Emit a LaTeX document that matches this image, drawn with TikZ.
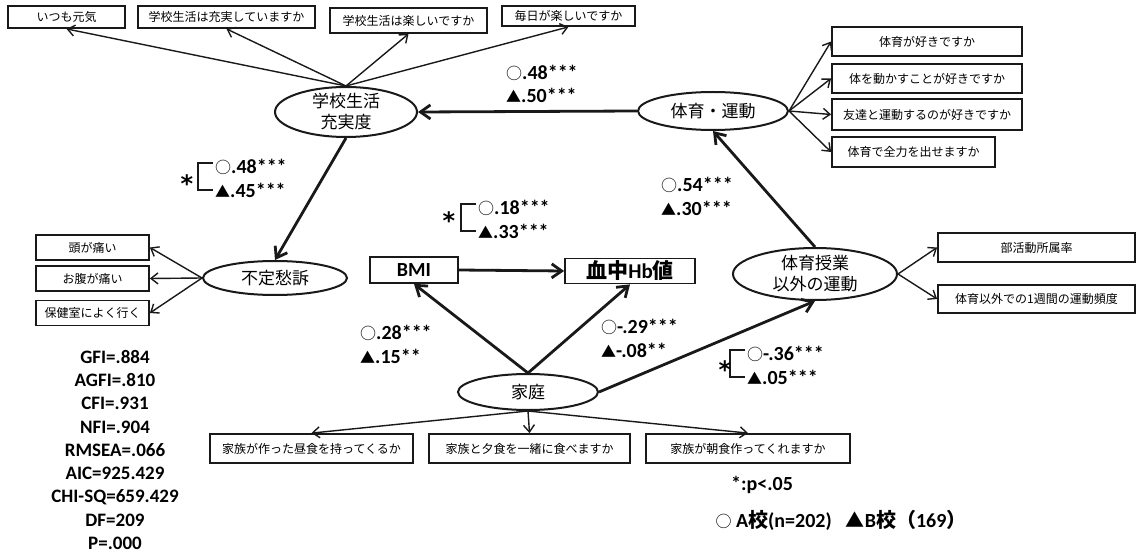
\documentclass[tikz,border=0pt]{standalone}
\usepackage{fontspec}
\setmainfont{Carlito}
\newfontfamily\cjk{Noto Sans CJK JP}
\newfontfamily\starfont{DejaVu Sans}
\usepackage{tikz}
\usetikzlibrary{arrows.meta,shapes.geometric}
\newcommand{\markA}{{\cjk\mdseries\fontsize{16}{16}\selectfont ○}}
\newcommand{\markB}{{\cjk\mdseries\fontsize{15}{15}\selectfont ▲}}

\begin{document}
\begin{tikzpicture}[
  x=1pt, y=-1pt,
  obs/.style={rectangle, draw=black!90, line width=1.8pt, inner sep=0pt, align=center,
              font=\cjk\fontsize{12}{14}\selectfont},
  latent/.style={ellipse, draw=black!90, line width=2pt, inner sep=0pt, align=center,
                 font=\cjk\fontsize{17}{21}\selectfont},
  coef/.style={anchor=west, inner sep=0pt, align=left, font=\bfseries\fontsize{20}{24}\selectfont},
  sgn/.style={inner sep=0pt, font=\starfont\bfseries\fontsize{24}{24}\selectfont},
  brk/.style={line width=2pt, draw=black!90},
  ind/.style={-{Straight Barb[length=7pt,width=11pt]}, line width=1.4pt, draw=black!90},
  eff/.style={-{Straight Barb[length=10pt,width=14pt]}, line width=2.8pt, draw=black!90}
]
\useasboundingbox (0,0) rectangle (1142,553);

\node[latent, minimum width=142pt, minimum height=50pt, inner ysep=-3pt] (sch) at (346,112) {学校生活\\充実度};
\node[latent, minimum width=150pt, minimum height=38pt] (pe) at (713,111) {体育・運動};
\node[latent, minimum width=144pt, minimum height=34pt] (fut) at (275,278) {不定愁訴};
\node[latent, minimum width=140pt, minimum height=36pt] (home) at (528,392) {家庭};
\node[latent, minimum width=164pt, minimum height=52pt, inner ysep=-3pt] (ext) at (815,274) {体育授業\\以外の運動};

\node[obs, minimum width=117pt, minimum height=22pt] (t1) at (66.5,17) {いつも元気};
\node[obs, minimum width=177pt, minimum height=22pt] (t2) at (226.5,17) {学校生活は充実していますか};
\node[obs, minimum width=157pt, minimum height=25pt] (t3) at (408.5,20.5) {学校生活は楽しいですか};
\node[obs, minimum width=133pt, minimum height=20pt] (t4) at (568.5,16) {毎日が楽しいですか};

\node[obs, minimum width=190pt, minimum height=29pt] (r1) at (927,41.5) {体育が好きですか};
\node[obs, minimum width=190pt, minimum height=29pt] (r2) at (927,78.5) {体を動かすことが好きですか};
\node[obs, minimum width=190pt, minimum height=31pt] (r3) at (927,114.5) {友達と運動するのが好きですか};
\node[obs, minimum width=163pt, minimum height=30pt] (r4) at (913.5,152) {体育で全力を出せますか};

\node[obs, minimum width=113pt, minimum height=25pt] (l1) at (92.5,247.5) {頭が痛い};
\node[obs, minimum width=113pt, minimum height=25pt] (l2) at (92.5,278.5) {お腹が痛い};
\node[obs, minimum width=113pt, minimum height=25pt] (l3) at (92.5,313) {保健室によく行く};

\node[obs, minimum width=88pt, minimum height=26pt, font=\bfseries\fontsize{20}{24}\selectfont] (bmi) at (414,270) {BMI};
\node[obs, minimum width=130pt, minimum height=25pt, font=\bfseries\fontsize{21}{24}\selectfont] (hb) at (630,271) {{\cjk 血中}Hb{\cjk 値}};

\node[obs, minimum width=197pt, minimum height=29pt] (e1) at (1036.5,247.5) {部活動所属率};
\node[obs, minimum width=197pt, minimum height=28pt] (e2) at (1036.5,299) {体育以外での1週間の運動頻度};

\node[obs, minimum width=203pt, minimum height=29pt] (f1) at (311.5,448.5) {家族が作った昼食を持ってくるか};
\node[obs, minimum width=201pt, minimum height=29pt] (f2) at (529.5,448.5) {家族と夕食を一緒に食べますか};
\node[obs, minimum width=204pt, minimum height=29pt] (f3) at (748,448.5) {家族が朝食作ってくれますか};

\draw[ind] (sch.north) -- (t1.south);
\draw[ind] (sch.north) -- (t2.south);
\draw[ind] (sch.north) -- (t3.south);
\draw[ind] (sch.north) -- (t4.south);
\draw[ind] (pe.east) -- (r1.west);
\draw[ind] (pe.east) -- (r2.west);
\draw[ind] (pe.east) -- (r3.west);
\draw[ind] (pe.east) -- (r4.west);
\draw[ind] (fut.west) -- (l1.east);
\draw[ind] (fut.west) -- (l2.east);
\draw[ind] (fut.west) -- (l3.east);
\draw[ind] (ext.east) -- (e1.west);
\draw[ind] (ext.east) -- (e2.west);
\draw[ind] (home.south) -- (f1.north);
\draw[ind] (home.south) -- (f2.north);
\draw[ind] (home.south) -- (f3.north);

\draw[eff] (pe.west) -- (sch.east);
\draw[eff] (sch.south) -- (fut.north);
\draw[eff] (bmi.east) -- (hb.west);
\draw[eff] (home.north) -- (bmi.south);
\draw[eff] (home.north) -- (hb.south);
\draw[eff] (home.east) -- (ext.south);
\draw[eff] (ext.north) -- (pe.south);

\node[coef, font=\bfseries\fontsize{20}{23}\selectfont] (k1) at (506,84) {\markA.48***\\\markB.50***};
\node[coef] (k2) at (215,178) {\markA.48***\\\markB.45***};
\node[coef] (k3) at (478,219) {\markA.18***\\\markB.33***};
\node[coef] (k4) at (661,196) {\markA.54***\\\markB.30***};
\node[coef] (k5) at (360,344) {\markA.28***\\\markB.15**};
\node[coef] (k6) at (601,338) {\markA-.29***\\\markB-.08**};
\node[coef] (k7) at (747,365) {\markA-.36***\\\markB.05***};

\draw[brk] ([shift={(-2,-15)}]k2.west) -- ++(-15,0) -- ++(0,27) -- ++(15,0);
\draw[brk] ([shift={(-2,-15)}]k3.west) -- ++(-15,0) -- ++(0,27) -- ++(15,0);
\draw[brk] ([shift={(-2,-15)}]k7.west) -- ++(-15,0) -- ++(0,27) -- ++(15,0);
\node[sgn] (s2) at (187,184) {*};
\node[sgn] (s3) at (449,221) {*};
\node[sgn] (s7) at (725,370) {*};

\node[align=center, inner sep=0pt, font=\bfseries\fontsize{19}{23.25}\selectfont] (fit) at (115,450)
  {GFI=.884\\AGFI=.810\\CFI=.931\\NFI=.904\\RMSEA=.066\\AIC=925.429\\CHI-SQ=659.429\\DF=209\\P=.000};
\node[inner sep=0pt, font=\bfseries\fontsize{20}{24}\selectfont] (sig) at (762,485) {*:p<.05};
\node[inner sep=0pt, font=\bfseries\fontsize{20}{24}\selectfont] (leg) at (841,520)
  {\markA\ A{\cjk 校}(n=202)\hspace{14pt}{\cjk\mdseries\fontsize{19}{19}\selectfont ▲}B{\cjk 校}{\cjk（}169{\cjk ）}};
\end{tikzpicture}
\end{document}
